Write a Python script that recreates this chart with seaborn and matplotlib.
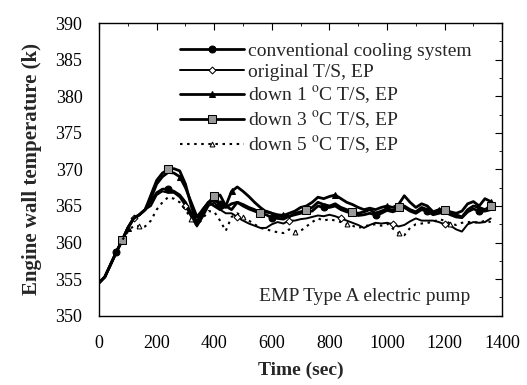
import numpy as np
import pandas as pd
import matplotlib
matplotlib.use("Agg")
import matplotlib.pyplot as plt
import seaborn as sns
from matplotlib.ticker import MultipleLocator

sns.set_theme(style="white")
plt.rcParams['font.family'] = ['Liberation Serif', 'DejaVu Serif']
plt.rcParams['mathtext.fontset'] = 'stix'

time_s = list(range(0, 1361, 20))

early = [354.5, 355.3, 357.0, 358.7, 360.3, 362.0, 363.3, 363.8, 364.5]

conventional = early + [
    365.5, 366.8, 367.3, 367.3, 367.0, 366.5, 365.5, 364.0, 362.8, 364.5,
    365.5, 365.8, 365.3, 364.8, 365.3, 365.5, 365.0, 364.6, 364.3, 364.0,
    363.8, 363.4, 363.3, 363.2, 363.6, 363.8, 364.0, 364.2, 364.3, 365.0,
    364.8, 364.8, 365.0, 364.5, 364.2, 364.0, 363.7, 363.8, 364.0, 363.8,
    364.0, 364.4, 364.2, 364.5, 364.8, 364.3, 364.0, 364.5, 364.3, 363.8,
    364.0, 364.2, 363.8, 363.5, 363.4, 364.2, 364.6, 364.3, 364.3, 364.5]

original_ts = early + [
    365.0, 366.5, 367.0, 366.8, 366.8, 366.2, 365.0, 363.5, 362.2, 363.5,
    365.0, 365.5, 364.5, 364.0, 364.0, 363.5, 363.0, 362.6, 362.3, 362.0,
    362.0, 362.5, 362.8, 362.6, 363.0, 363.0, 363.2, 363.3, 363.5, 363.7,
    363.6, 363.8, 363.6, 363.3, 363.0, 362.7, 362.4, 362.0, 362.4, 362.7,
    362.6, 362.7, 362.5, 362.2, 362.4, 362.9, 363.3, 363.0, 363.0, 363.0,
    362.8, 362.5, 362.3, 361.8, 361.5, 362.5, 362.8, 362.7, 362.8, 363.3]

down1 = early + [
    366.0, 368.0, 369.0, 369.6, 369.5, 369.0, 367.5, 365.5, 363.5, 364.5,
    365.5, 365.0, 364.5, 365.0, 367.0, 367.6, 367.0, 366.3, 365.5, 364.8,
    364.2, 364.0, 363.8, 363.7, 364.0, 364.3, 364.8, 365.0, 365.5, 366.2,
    366.0, 366.3, 366.5, 366.0, 365.5, 365.2, 364.8, 364.5, 364.7, 364.5,
    364.8, 365.0, 364.8, 365.2, 366.4, 365.5, 364.8, 365.3, 365.0, 364.2,
    364.5, 364.5, 364.2, 364.0, 364.3, 365.3, 365.6, 365.0, 366.0, 365.6]

down3 = early + [
    366.5, 368.5, 369.5, 370.0, 370.1, 369.8, 368.0, 365.0, 362.5, 364.0,
    365.5, 366.3, 366.5, 365.0, 364.5, 365.5, 365.2, 364.8, 364.5, 364.0,
    364.3, 364.0, 363.5, 363.8, 363.5, 364.0, 364.2, 364.5, 364.8, 365.5,
    365.2, 365.0, 365.3, 364.8, 364.5, 364.2, 364.0, 364.2, 364.5, 364.0,
    364.3, 364.6, 364.4, 364.8, 365.0, 364.5, 364.2, 364.8, 364.5, 364.0,
    364.3, 364.5, 364.0, 363.8, 363.5, 364.5, 365.0, 364.8, 364.5, 365.0]

down5 = [354.5, 355.3, 357.0, 358.7, 360.3, 361.5, 362.3, 362.2, 362.2] + [
    363.0, 364.5, 365.5, 366.2, 366.0, 365.5, 364.5, 363.2, 362.3, 363.3,
    364.3, 364.2, 363.0, 361.6, 363.5, 364.0, 363.5, 363.0, 362.5, 362.0,
    361.8, 361.6, 361.4, 361.3, 361.8, 361.5, 361.6, 362.2, 362.8, 363.3,
    363.0, 363.2, 363.0, 362.8, 362.5, 362.3, 362.0, 362.2, 362.4, 362.5,
    362.3, 362.6, 361.9, 361.3, 361.0, 362.0, 362.5, 362.6, 362.7, 362.8,
    363.2, 363.0, 362.6, 362.4, 362.7, 362.8, 362.8, 362.7, 363.0, 362.8]

labels = ["conventional cooling system",
          "original T/S, EP",
          "down 1 $^{\\mathrm{o}}$C T/S, EP",
          "down 3 $^{\\mathrm{o}}$C T/S, EP",
          "down 5 $^{\\mathrm{o}}$C T/S, EP"]
series = [conventional, original_ts, down1, down3, down5]

styles = [
    dict(marker='o', mfc='black', mec='black', ms=5, ls='-', lw=2.0, markevery=(3, 9)),
    dict(marker='D', mfc='white', mec='black', ms=3.5, ls='-', lw=1.4, markevery=(6, 9)),
    dict(marker='^', mfc='black', mec='black', ms=4, ls='-', lw=2.0, markevery=(5, 9)),
    dict(marker='s', mfc='#999999', mec='black', ms=5.5, ls='-', lw=2.0, markevery=(4, 8)),
    dict(marker='^', mfc='white', mec='black', ms=3.5, ls=(0, (1.2, 2.2)), lw=1.5, markevery=(7, 9)),
]

fig = plt.figure(figsize=(5.27, 3.85), dpi=100)
ax = fig.add_axes([0.188, 0.18, 0.765, 0.76])

for lab, vals, st in zip(labels, series, styles):
    df = pd.DataFrame({"Time": time_s, "Temp": vals})
    sns.lineplot(data=df, x="Time", y="Temp", ax=ax, color='black',
                 label=lab, **st)

ax.set_xlim(0, 1400)
ax.set_ylim(350, 390)
ax.xaxis.set_major_locator(MultipleLocator(200))
ax.xaxis.set_minor_locator(MultipleLocator(100))
ax.yaxis.set_major_locator(MultipleLocator(5))
ax.yaxis.set_minor_locator(MultipleLocator(2.5))
ax.tick_params(which='both', direction='in', top=True, right=True,
               labelsize=13, colors='black')
ax.tick_params(which='major', length=5, width=0.8)
ax.tick_params(which='minor', length=2.5, width=0.6)
ax.tick_params(axis='x', pad=14)
ax.tick_params(axis='y', pad=12)
for sp in ax.spines.values():
    sp.set_color('black')
    sp.set_linewidth(1.0)

ax.set_xlabel("Time (sec)", fontsize=14, fontweight='bold', labelpad=7)
ax.set_ylabel("Engine wall temperature (k)", fontsize=15, fontweight='bold', labelpad=10)

ax.text(0.92, 0.035, "EMP Type A electric pump", transform=ax.transAxes,
        ha='right', va='bottom', fontsize=14)

leg = ax.legend(loc='upper left', bbox_to_anchor=(0.2, 0.935), frameon=False,
                fontsize=14, handlelength=3.3, handletextpad=0.2,
                labelspacing=0.18, borderpad=0, borderaxespad=0)

fig.savefig("out.png", dpi=100, facecolor='white')
